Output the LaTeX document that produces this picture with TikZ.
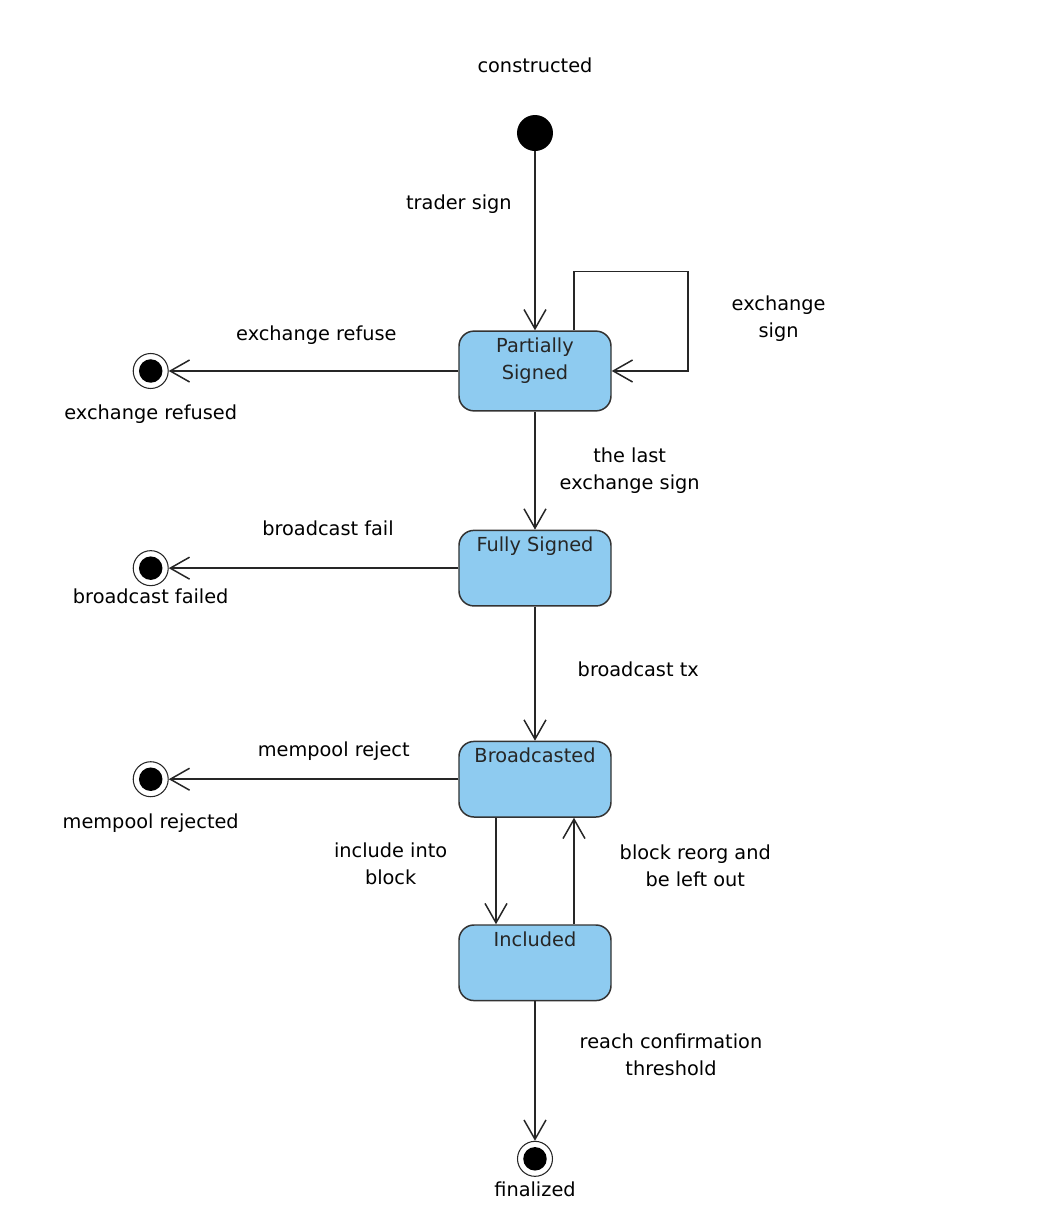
\documentclass[tikz,border=0pt]{standalone}
\usepackage{fontspec}
\setmainfont{DejaVu Sans}
\usepackage{xcolor}
\usetikzlibrary{arrows.meta,positioning}
\definecolor{stateblue}{RGB}{142,203,240}

\begin{document}
\begin{tikzpicture}[
    statebox/.style={rectangle, draw=black!80, line width=0.85pt, fill=stateblue, rounded corners=0.3cm, minimum width=3.04cm, inner xsep=0pt, inner ysep=4pt, text height=8pt, text depth=27pt, align=center, text=black!85, font=\fontsize{11}{15.4}\selectfont},
    startstate/.style={circle, fill=black, minimum size=0.72cm, inner sep=0pt},
    endstate/.style={circle, draw=black!85, line width=0.6pt, fill=white, minimum size=0.7cm, inner sep=0pt, path picture={\fill[black] (path picture bounding box.center) circle (0.235cm);}},
    lbl/.style={inner sep=0pt, align=center, text height=0.75em, text depth=0.25em, font=\fontsize{11}{15.4}\selectfont},
    lbltwo/.style={lbl, text height=2.15em},
    arrow/.style={draw=black!85, line width=0.85pt, -{Straight Barb[length=11pt, width=12.5pt]}}
]
\useasboundingbox (-10.7,2.66) rectangle (10.26,-21.7);

% Initial state
\node [startstate] (init) at (0,0) {};
\node [lbl, above=0.74cm of init] (constructed) {constructed};

% Main states
\node [statebox, text height=23.4pt, text depth=14pt, below=3.58cm of init] (partial) {Partially\\Signed};
\node [statebox, below=2.36cm of partial] (fully) {Fully Signed};
\node [statebox, below=2.68cm of fully] (bcast) {Broadcasted};
\node [statebox, below=2.13cm of bcast] (incl) {Included};

% Final states
\node [endstate, below=2.79cm of incl] (fin) {};
\node [lbl, below=0.12cm of fin] (fintext) {finalized};

\node [endstate, left=5.79cm of partial] (refused) {};
\node [lbl, below=0.34cm of refused] (refusedtext) {exchange refused};
\node [endstate, left=5.79cm of fully] (failed) {};
\node [lbl, below=0.08cm of failed] (failedtext) {broadcast failed};
\node [endstate, left=5.79cm of bcast] (rejected) {};
\node [lbl, below=0.36cm of rejected] (rejectedtext) {mempool rejected};

% Transitions
\draw [arrow] (init) -- node[lbl, left=0.45cm, pos=0.3] {trader sign} (partial);
\draw [arrow] (partial.west) -- node[lbl, above=0.5cm, pos=0.49] {exchange refuse} (refused);
\draw [arrow] ([xshift=0.78cm]partial.north) |- ++(2.28,1.18) |- node[lbltwo, right=0.86cm, pos=0.25] {exchange\\sign} (partial.east);
\draw [arrow] (partial) -- node[lbltwo, right=0.48cm, pos=0.52] {the last\\exchange sign} (fully);

\draw [arrow] (fully.west) -- node[lbl, above=0.56cm, pos=0.45] {broadcast fail} (failed);
\draw [arrow] (fully) -- node[lbl, right=0.84cm, pos=0.49] {broadcast tx} (bcast);

\draw [arrow] (bcast.west) -- node[lbl, above=0.36cm, pos=0.43] {mempool reject} (rejected);
\draw [arrow] ([xshift=-0.78cm]bcast.south) -- node[lbltwo, left=0.96cm, pos=0.47] {include into\\block} ([xshift=-0.78cm]incl.north);
\draw [arrow] ([xshift=0.78cm]incl.north) -- node[lbltwo, right=0.9cm, pos=0.51] {block reorg and\\be left out} ([xshift=0.78cm]bcast.south);

\draw [arrow] (incl) -- node[lbltwo, right=0.88cm, pos=0.41] {reach confirmation\\threshold} (fin);

\end{tikzpicture}
\end{document}
